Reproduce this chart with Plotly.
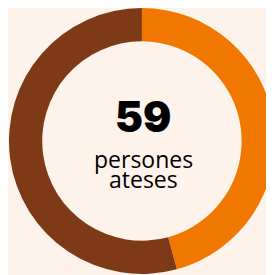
import plotly.graph_objects as go

labels = ["Grup A", "Grup B"]
values = [27, 32]
colors = ["#F07800", "#7E3A17"]
total_label = "59"
sub_lines = ["persones", "ateses"]

W, H = 274, 275
OFF = 8  # page body margin compensation
fig = go.Figure(go.Pie(
    labels=labels, values=values, hole=0.75, sort=False, direction="clockwise",
    rotation=0, marker=dict(colors=colors, line=dict(width=0)),
    textinfo="none", hoverinfo="label+value",
    domain=dict(x=[0.0036, 0.974], y=[0.0327, 1.0]),
))
cx = 143 - OFF
fig.add_annotation(x=cx/W, y=1-(116-OFF)/H, xref="paper", yref="paper", text=total_label,
                   showarrow=False, font=dict(family="Inter", size=42, color="#000000", weight=900),
                   xanchor="center", yanchor="middle")
for txt, yy in zip(sub_lines, [159, 179]):
    fig.add_annotation(x=cx/W, y=1-(yy-OFF)/H, xref="paper", yref="paper", text=txt,
                       showarrow=False, font=dict(family="Open Sans", size=23, color="#000000"),
                       xanchor="center", yanchor="middle")
fig.update_layout(width=W, height=H, margin=dict(l=0, r=0, t=0, b=0),
                  paper_bgcolor="#FDF3EA", plot_bgcolor="#FDF3EA", showlegend=False)
fig.write_html("out.html")
